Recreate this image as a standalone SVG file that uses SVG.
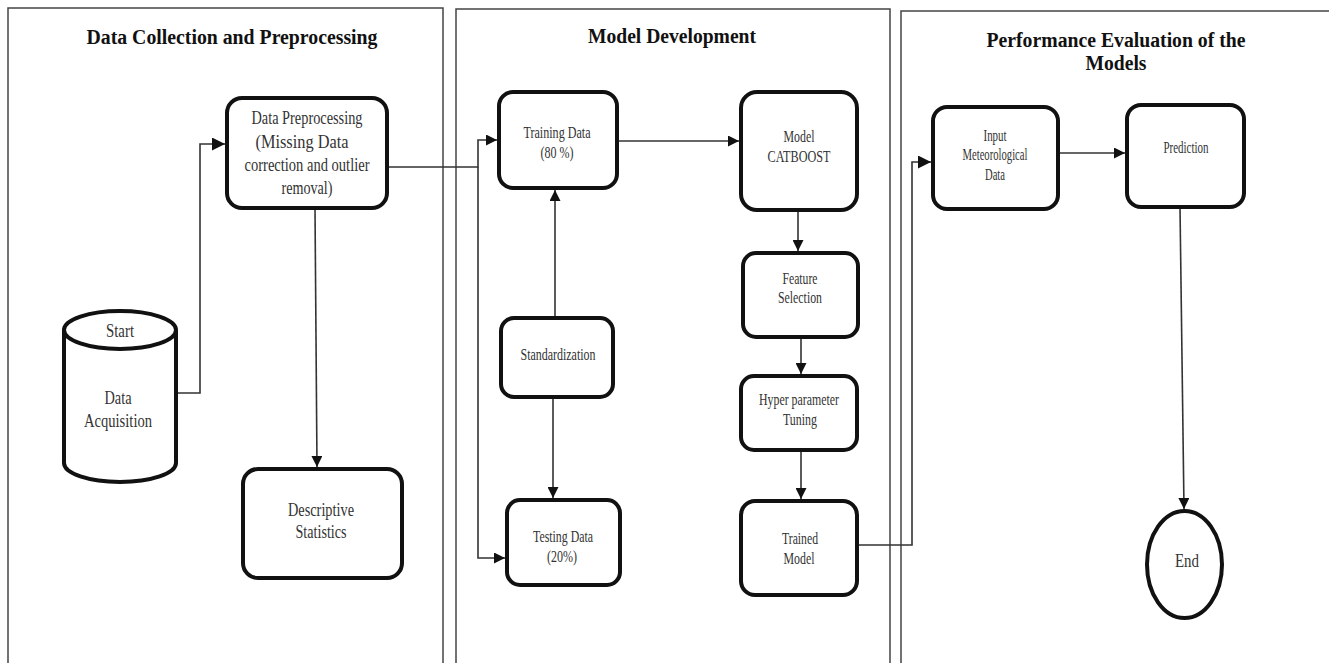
<svg xmlns="http://www.w3.org/2000/svg" width="1329" height="663" viewBox="0 0 1329 663">
<style>
.panel{fill:none;stroke:#444;stroke-width:1.5}
.box{fill:#fff;stroke:#111;stroke-width:4}
.title{font-family:"Liberation Serif","Times New Roman",serif;font-weight:bold;font-size:20px;fill:#111;text-anchor:middle}
.t{font-family:"Liberation Serif","Times New Roman",serif;fill:#333;text-anchor:middle}
.conn{fill:none;stroke:#333;stroke-width:1.6}
</style>
<defs>
<marker id="ah" viewBox="0 0 10 10" refX="10" refY="5" markerWidth="11" markerHeight="11" markerUnits="userSpaceOnUse" orient="auto">
<path d="M0,0 L10,5 L0,10 z" fill="#111"/>
</marker>
<marker id="ahL" viewBox="0 0 10 10" refX="10" refY="5" markerWidth="13" markerHeight="13" markerUnits="userSpaceOnUse" orient="auto">
<path d="M0,0 L10,5 L0,10 z" fill="#111"/>
</marker>
</defs>
<rect width="1329" height="663" fill="#fff"/>
<g id="panels">
<rect class="panel" x="8" y="8" width="435" height="720"/>
<rect class="panel" x="456" y="9" width="434" height="720"/>
<rect class="panel" x="901" y="11" width="460" height="720"/>
<text class="title" x="232" y="44" textLength="291" lengthAdjust="spacingAndGlyphs">Data Collection and Preprocessing</text>
<text class="title" x="672" y="43" textLength="168" lengthAdjust="spacingAndGlyphs">Model Development</text>
<text class="title" x="1116" y="47" textLength="259" lengthAdjust="spacingAndGlyphs">Performance Evaluation of the</text>
<text class="title" x="1116" y="70" textLength="61" lengthAdjust="spacingAndGlyphs">Models</text>
</g>
<g id="connectors">
<path class="conn" d="M176,393 H200 V144 H225" marker-end="url(#ahL)"/>
<path class="conn" d="M315,208 L317,467" marker-end="url(#ah)"/>
<path class="conn" d="M387,167 H478 V140 H497" marker-end="url(#ah)"/>
<path class="conn" d="M478,167 V558 H505" marker-end="url(#ah)"/>
<path class="conn" d="M617,141 H739" marker-end="url(#ah)"/>
<path class="conn" d="M555,318 V190" marker-end="url(#ah)"/>
<path class="conn" d="M553,397 V498" marker-end="url(#ah)"/>
<path class="conn" d="M798,210 V251" marker-end="url(#ah)"/>
<path class="conn" d="M801,337 V374" marker-end="url(#ah)"/>
<path class="conn" d="M801,450 V499" marker-end="url(#ah)"/>
<path class="conn" d="M857,545 H912 V162 H931" marker-end="url(#ahL)"/>
<path class="conn" d="M1058,153 H1125" marker-end="url(#ah)"/>
<path class="conn" d="M1180,207 L1184,509" marker-end="url(#ah)"/>
</g>
<g id="data-acquisition">
<path class="box" d="M64,330 V463 A56,19 0 0 0 176,463 V330 A56,19 0 0 0 64,330 Z"/>
<path class="box" d="M64,330 A56,19 0 0 0 176,330" fill="none"/>
<text class="t" x="120" y="337" font-size="18" textLength="28" lengthAdjust="spacingAndGlyphs">Start</text>
<text class="t" x="118" y="404" font-size="18" textLength="27" lengthAdjust="spacingAndGlyphs">Data</text>
<text class="t" x="118" y="427" font-size="18" textLength="68" lengthAdjust="spacingAndGlyphs">Acquisition</text>
</g>
<g id="data-preprocessing">
<rect class="box" x="227" y="98" width="160" height="110" rx="15"/>
<text class="t" x="307" y="124" font-size="19" textLength="111" lengthAdjust="spacingAndGlyphs">Data Preprocessing</text>
<text class="t" x="302" y="148" font-size="19" textLength="93" lengthAdjust="spacingAndGlyphs">(Missing Data</text>
<text class="t" x="307" y="171" font-size="19" textLength="125" lengthAdjust="spacingAndGlyphs">correction and outlier</text>
<text class="t" x="307" y="194" font-size="19" textLength="51" lengthAdjust="spacingAndGlyphs">removal)</text>
</g>
<g id="descriptive-statistics">
<rect class="box" x="243" y="469" width="159" height="109" rx="15"/>
<text class="t" x="321" y="516" font-size="19" textLength="66" lengthAdjust="spacingAndGlyphs">Descriptive</text>
<text class="t" x="321" y="538" font-size="19" textLength="51" lengthAdjust="spacingAndGlyphs">Statistics</text>
</g>
<g id="training-data">
<rect class="box" x="499" y="92" width="118" height="96" rx="14"/>
<text class="t" x="557" y="138" font-size="17" textLength="67" lengthAdjust="spacingAndGlyphs">Training Data</text>
<text class="t" x="557" y="158" font-size="17" textLength="33" lengthAdjust="spacingAndGlyphs">(80 %)</text>
</g>
<g id="model-catboost">
<rect class="box" x="741" y="92" width="116" height="118" rx="16"/>
<text class="t" x="799" y="142" font-size="17" textLength="31" lengthAdjust="spacingAndGlyphs">Model</text>
<text class="t" x="799" y="162" font-size="17" textLength="63" lengthAdjust="spacingAndGlyphs">CATBOOST</text>
</g>
<g id="standardization">
<rect class="box" x="501" y="318" width="112" height="79" rx="13"/>
<text class="t" x="558" y="360" font-size="17" textLength="75" lengthAdjust="spacingAndGlyphs">Standardization</text>
</g>
<g id="testing-data">
<rect class="box" x="507" y="500" width="113" height="85" rx="13"/>
<text class="t" x="563" y="542" font-size="17" textLength="60" lengthAdjust="spacingAndGlyphs">Testing Data</text>
<text class="t" x="562" y="562" font-size="17" textLength="30" lengthAdjust="spacingAndGlyphs">(20%)</text>
</g>
<g id="feature-selection">
<rect class="box" x="743" y="253" width="115" height="84" rx="13"/>
<text class="t" x="800" y="284" font-size="17" textLength="35" lengthAdjust="spacingAndGlyphs">Feature</text>
<text class="t" x="800" y="303" font-size="17" textLength="44" lengthAdjust="spacingAndGlyphs">Selection</text>
</g>
<g id="hyper-parameter-tuning">
<rect class="box" x="741" y="376" width="116" height="74" rx="13"/>
<text class="t" x="799" y="405" font-size="17" textLength="80" lengthAdjust="spacingAndGlyphs">Hyper parameter</text>
<text class="t" x="800" y="425" font-size="17" textLength="34" lengthAdjust="spacingAndGlyphs">Tuning</text>
</g>
<g id="trained-model">
<rect class="box" x="741" y="501" width="116" height="94" rx="14"/>
<text class="t" x="800" y="544" font-size="17" textLength="36" lengthAdjust="spacingAndGlyphs">Trained</text>
<text class="t" x="799" y="564" font-size="17" textLength="31" lengthAdjust="spacingAndGlyphs">Model</text>
</g>
<g id="input-meteorological-data">
<rect class="box" x="933" y="107" width="125" height="102" rx="14"/>
<text class="t" x="995" y="141" font-size="16" textLength="23" lengthAdjust="spacingAndGlyphs">Input</text>
<text class="t" x="995" y="160" font-size="16" textLength="65" lengthAdjust="spacingAndGlyphs">Meteorological</text>
<text class="t" x="995" y="180" font-size="16" textLength="20" lengthAdjust="spacingAndGlyphs">Data</text>
</g>
<g id="prediction">
<rect class="box" x="1127" y="105" width="117" height="102" rx="14"/>
<text class="t" x="1186" y="153" font-size="16" textLength="45" lengthAdjust="spacingAndGlyphs">Prediction</text>
</g>
<g id="end">
<ellipse class="box" cx="1184.5" cy="564.5" rx="37.5" ry="53.5"/>
<text class="t" x="1187" y="567" font-size="18" textLength="24" lengthAdjust="spacingAndGlyphs">End</text>
</g>
</svg>
